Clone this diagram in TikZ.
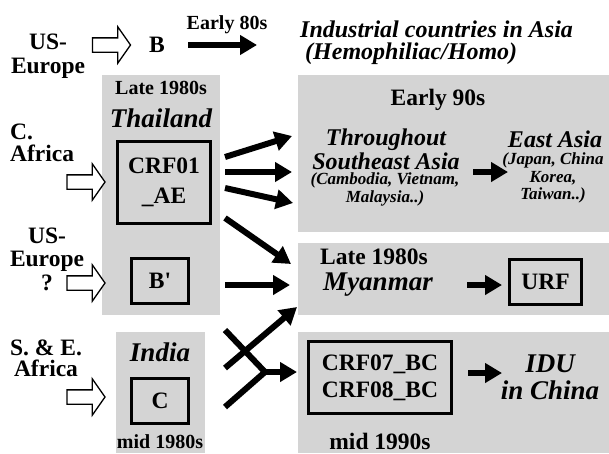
\documentclass[tikz,border=0pt]{standalone}
\usepackage{fontspec}
\setmainfont{Liberation Serif}
\usetikzlibrary{arrows.meta,shapes.arrows}
\definecolor{panelgray}{RGB}{212,212,212}
\tikzset{
  panel/.style={fill=panelgray, draw=none, anchor=north west, inner sep=0pt, outer sep=0pt},
  strainbox/.style={draw, line width=3.5pt, inner sep=0pt, align=center},
  txt/.style={inner sep=0pt, align=center},
  big/.style={font=\fontsize{23.5}{24}\selectfont\bfseries},
  mid/.style={font=\fontsize{20}{21}\selectfont\bfseries},
  place/.style={font=\fontsize{27}{27}\selectfont\bfseries\itshape},
  region/.style={font=\fontsize{24}{24}\selectfont\bfseries\itshape},
  small/.style={font=\fontsize{17}{17.5}\selectfont\bfseries\itshape},
  bigarrow/.style={line width=6pt, -{Triangle[length=17pt,width=19pt]}},
  plainline/.style={line width=6pt},
  hollow/.style={single arrow, draw, line width=1.3pt, fill=white,
    minimum height=38pt, inner xsep=0pt, inner ysep=6.5pt,
    single arrow head extend=11pt, single arrow tip angle=110},
}
\begin{document}
\begin{tikzpicture}[x=1pt,y=-1pt]
\useasboundingbox (0,0) rectangle (609,453);
\fill[white] (0,0) rectangle (609,453);
% panels
\node[panel, minimum width=118pt, minimum height=240pt] (thai) at (102,75) {};
\node[panel, minimum width=89pt, minimum height=121pt] (indp) at (116,332) {};
\node[panel, minimum width=311pt, minimum height=157pt] (p1) at (298,75) {};
\node[panel, minimum width=311pt, minimum height=72pt] (p2) at (298,243) {};
\node[panel, minimum width=311pt, minimum height=121pt] (p3) at (298,332) {};

% top row
\node[txt, big, font=\fontsize{23.5}{24}\selectfont\bfseries] (useu1) at (48,56) {US-\\Europe};
\node[hollow] (h1) at (109,45) {};
\node[txt, big] (B) at (157,45) {B};
\node[txt, mid] (e80) at (227,25) {Early 80s};
\coordinate (a0s) at (188,45);
\coordinate (a0e) at (257,45);
\draw[bigarrow] (a0s) -- (a0e);
\node[txt, region, anchor=west] (ind1) at (300,29) {Industrial countries in Asia};
\node[txt, region, anchor=west] (ind2) at (305,54) {(Hemophiliac/Homo)};

% Thailand panel
\node[txt, mid] (late1) at (161,88) {Late 1980s};
\node[txt, place] (thailand) at (161,118) {Thailand};
\node[strainbox, big, font=\fontsize{23.5}{30}\selectfont\bfseries, minimum width=93pt, minimum height=82pt] (crf01) at (164,182.5) {CRF01\\\_AE};
\node[strainbox, big, minimum width=57pt, minimum height=45pt] (bp) at (160,281) {B\textquotesingle};

% left labels
\node[txt, big, font=\fontsize{23.5}{21.5}\selectfont\bfseries, align=left, anchor=west] (caf) at (10,143) {C.\\Africa};
\node[hollow] (h2) at (83.5,182) {};
\node[txt, big, font=\fontsize{23.5}{23.5}\selectfont\bfseries] (useu2) at (47,259) {US-\\Europe\\?};
\node[hollow] (h3) at (83.5,283) {};
\node[txt, big, font=\fontsize{23.5}{21}\selectfont\bfseries] (seaf) at (46,358) {S. \& E.\\Africa};
\node[hollow] (h4) at (83.5,397) {};

% India panel
\node[txt, place] (india) at (160,352) {India};
\node[strainbox, big, minimum width=57pt, minimum height=45pt] (cbox) at (160,401) {C};
\node[txt, mid] (mid80) at (160,442) {mid 1980s};

% panel 1
\node[txt, big] (e90) at (438,100) {Early 90s};
\node[txt, region] (sea) at (386,149) {Throughout\\Southeast Asia};
\node[txt, small] (seac) at (385,189.5) {(Cambodia, Vietnam,\\Malaysia..)};
\node[txt, region] (eas) at (555,139) {East Asia};
\node[txt, small] (easc) at (553,178) {(Japan, China\\Korea,\\Taiwan..)};
\coordinate (b1s) at (473,172);
\coordinate (b1e) at (508,172);
\draw[bigarrow] (b1s) -- (b1e);

% panel 2
\node[txt, big] (late2) at (374,257) {Late 1980s};
\node[txt, place] (myan) at (378,285) {Myanmar};
\node[strainbox, big, minimum width=72pt, minimum height=45pt] (urf) at (545.5,282) {URF};
\coordinate (b2s) at (467,285);
\coordinate (b2e) at (502,285);
\draw[bigarrow] (b2s) -- (b2e);

% panel 3
\node[strainbox, big, font=\fontsize{23.5}{27}\selectfont\bfseries, minimum width=143pt, minimum height=72pt] (crf07) at (380,377.5) {CRF07\_BC\\CRF08\_BC};
\node[txt, place] (idu) at (550,377) {IDU\\in China};
\node[txt, big] (mid90) at (380,441) {mid 1990s};
\coordinate (b3s) at (468,373);
\coordinate (b3e) at (502,373);
\draw[bigarrow] (b3s) -- (b3e);

% arrows from Thailand
\coordinate (t1s) at (225,157); \coordinate (t1e) at (292,136);
\coordinate (t2s) at (225,172); \coordinate (t2e) at (292,172);
\coordinate (t3s) at (225,188); \coordinate (t3e) at (293,203);
\coordinate (t4s) at (225,218); \coordinate (t4e) at (291,264);
\coordinate (t5s) at (225,285); \coordinate (t5e) at (290,285);
\draw[bigarrow] (t1s) -- (t1e);
\draw[bigarrow] (t2s) -- (t2e);
\draw[bigarrow] (t3s) -- (t3e);
\draw[bigarrow] (t4s) -- (t4e);
\draw[bigarrow] (t5s) -- (t5e);

% arrows from India
\coordinate (x1s) at (225,368); \coordinate (x1e) at (297,307);
\coordinate (x2s) at (225,330); \coordinate (jn) at (265,372);
\coordinate (x3s) at (225,407); \coordinate (x4e) at (297,372);
\draw[bigarrow] (x1s) -- (x1e);
\draw[plainline, line join=miter] (x2s) -- (jn) -- (x3s);
\draw[bigarrow] (jn) -- (x4e);
\end{tikzpicture}
\end{document}
